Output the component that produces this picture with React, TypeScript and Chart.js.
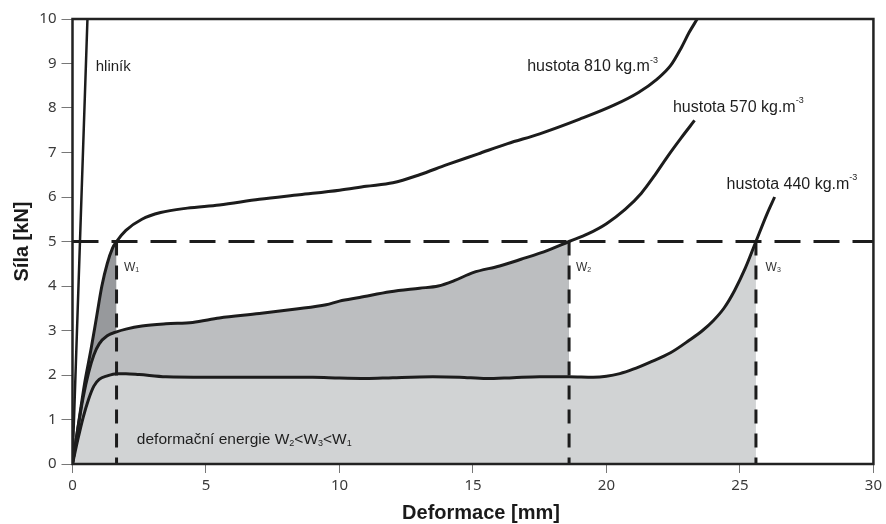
import React, { useEffect, useRef } from "react";
import { Chart, registerables } from "chart.js";
Chart.register(...registerables);

// ---- data (x: Deformace [mm], y: Síla [kN]) ----
const hlinikX = [0, 0.56];
const hlinikY = [0, 10];

const c810X = [0, 0.2, 0.45, 0.7, 0.9, 1.1, 1.3, 1.5, 1.65, 2.0, 2.6, 3.3, 4.3, 5.5, 7.0, 8.5, 10.0, 11.0, 12.0, 13.0, 14.0, 15.2, 16.3, 17.5, 19.0, 20.3, 21.2, 21.9, 22.4, 22.8, 23.1, 23.4];
const c810Y = [0, 0.8, 1.8, 2.6, 3.3, 4.0, 4.5, 4.85, 5.0, 5.25, 5.5, 5.65, 5.75, 5.82, 5.95, 6.05, 6.15, 6.24, 6.32, 6.5, 6.72, 6.97, 7.2, 7.42, 7.75, 8.07, 8.35, 8.65, 8.95, 9.35, 9.7, 10.0];

const c570X = [0, 0.2, 0.4, 0.6, 0.8, 1.0, 1.3, 1.65, 2.0, 2.6, 3.5, 4.5, 5.5, 7.0, 8.3, 9.5, 10.0, 10.75, 11.9, 13.0, 13.7, 14.3, 15.0, 16.0, 16.8, 17.8, 18.6, 19.3, 20.0, 20.7, 21.3, 21.8, 22.3, 22.8, 23.3];
const c570Y = [0, 0.8, 1.5, 2.05, 2.45, 2.7, 2.88, 2.97, 3.03, 3.1, 3.15, 3.18, 3.28, 3.38, 3.48, 3.58, 3.66, 3.74, 3.87, 3.95, 4.0, 4.12, 4.3, 4.45, 4.6, 4.8, 5.0, 5.17, 5.4, 5.72, 6.08, 6.48, 6.92, 7.33, 7.72];

const c440X = [0, 0.2, 0.4, 0.6, 0.8, 1.0, 1.3, 1.65, 2.0, 2.5, 3.5, 5.0, 7.0, 9.0, 10.0, 11.0, 12.0, 13.5, 14.5, 15.5, 16.5, 17.5, 18.6, 19.5, 20.0, 20.5, 21.0, 21.6, 22.4, 23.1, 23.6, 24.0, 24.4, 24.8, 25.2, 25.6, 26.0, 26.3];
const c440Y = [0, 0.55, 1.05, 1.45, 1.75, 1.9, 1.98, 2.03, 2.03, 2.01, 1.96, 1.95, 1.95, 1.95, 1.93, 1.92, 1.94, 1.96, 1.95, 1.92, 1.94, 1.96, 1.96, 1.95, 1.97, 2.03, 2.13, 2.28, 2.5, 2.78, 3.0, 3.22, 3.5, 3.9, 4.4, 5.0, 5.6, 6.0];

const limitForce = 5;
const wX = [1.65, 18.6, 25.6]; // W1, W2, W3 deformations at 5 kN

const xMin = 0, xMax = 30, xStep = 5;
const yMin = 0, yMax = 10, yStep = 1;

// label anchors (data units, left / middle)
const labelText = ["hustota 810 kg.m", "hustota 570 kg.m", "hustota 440 kg.m"];
const labelX = [17.03, 22.49, 24.5];
const labelY = [8.92, 8.0, 6.27];
const hlinikLabel = { text: "hliník", x: 0.87, y: 8.92 };
const wLabelX = [1.93, 18.86, 25.96];
const wLabelY = 4.42;
const energyLabel = { x: 2.41, y: 0.54 };

const pts = (xs: number[], ys: number[]) => xs.map((x, i) => ({ x, y: ys[i] }));
const upTo = (xs: number[], ys: number[], lim: number) =>
  pts(xs, ys).filter((p) => p.x <= lim + 1e-9);

const FONT = '"Liberation Sans", Arial, sans-serif';

function drawParts(ctx: CanvasRenderingContext2D, parts: { t: string; s: number; dy?: number }[], x: number, y: number) {
  let cx = x;
  for (const p of parts) {
    ctx.font = `${p.s}px ${FONT}`;
    ctx.fillText(p.t, cx, y + (p.dy || 0));
    cx += ctx.measureText(p.t).width;
  }
}

const overlayPlugin = {
  id: "overlay",
  afterDatasetsDraw(chart: any) {
    const { ctx, chartArea, scales } = chart;
    const xs = scales.x, ys = scales.y;
    ctx.save();
    // frame
    ctx.strokeStyle = "#222";
    ctx.lineWidth = 2.5;
    ctx.strokeRect(chartArea.left, chartArea.top, chartArea.right - chartArea.left, chartArea.bottom - chartArea.top);

    ctx.fillStyle = "#1e1e1e";
    ctx.textBaseline = "middle";
    ctx.textAlign = "left";
    // density labels
    labelText.forEach((t, i) => {
      drawParts(ctx, [{ t, s: 16 }, { t: "-3", s: 9, dy: -7 }], xs.getPixelForValue(labelX[i]), ys.getPixelForValue(labelY[i]));
    });
    drawParts(ctx, [{ t: hlinikLabel.text, s: 15 }], xs.getPixelForValue(hlinikLabel.x), ys.getPixelForValue(hlinikLabel.y));
    // W labels
    ctx.fillStyle = "#333";
    wLabelX.forEach((wx, i) => {
      drawParts(ctx, [{ t: "W", s: 12 }, { t: String(i + 1), s: 7, dy: 3 }], xs.getPixelForValue(wx), ys.getPixelForValue(wLabelY));
    });
    ctx.fillStyle = "#1e1e1e";
    drawParts(
      ctx,
      [
        { t: "deformační energie W", s: 15.5 },
        { t: "2", s: 9, dy: 4 },
        { t: "<W", s: 15.5 },
        { t: "3", s: 9, dy: 4 },
        { t: "<W", s: 15.5 },
        { t: "1", s: 9, dy: 4 },
      ],
      xs.getPixelForValue(energyLabel.x),
      ys.getPixelForValue(energyLabel.y)
    );
    // axis titles
    ctx.fillStyle = "#1a1a1a";
    ctx.font = `bold 20px ${FONT}`;
    ctx.textAlign = "center";
    ctx.fillText("Deformace [mm]", 481, 513);
    ctx.translate(22, (chartArea.top + chartArea.bottom) / 2);
    ctx.rotate(-Math.PI / 2);
    ctx.fillText("Síla [kN]", 0, 0);
    ctx.restore();
  },
};

export default function App() {
  const ref = useRef<HTMLCanvasElement>(null);
  useEffect(() => {
    if (!ref.current) return;
    const curve = (data: any[], order: number, width = 3) => ({
      data,
      borderColor: "#1c1c1c",
      borderWidth: width,
      pointRadius: 0,
      fill: false,
      cubicInterpolationMode: "monotone" as const,
      order,
    });
    const area = (data: any[], color: string, order: number) => ({
      data,
      borderColor: "rgba(0,0,0,0)",
      borderWidth: 0,
      backgroundColor: color,
      pointRadius: 0,
      fill: "origin",
      cubicInterpolationMode: "monotone" as const,
      order,
    });
    const dashed = (data: any[], dash: number[], order: number) => ({
      data,
      borderColor: "#1c1c1c",
      borderWidth: 3,
      borderDash: dash,
      pointRadius: 0,
      fill: false,
      tension: 0,
      order,
    });
    const datasets: any[] = [
      area(upTo(c810X, c810Y, wX[0]), "#97999c", 20),
      area(upTo(c570X, c570Y, wX[1]), "#bcbec0", 19),
      area(upTo(c440X, c440Y, wX[2]), "#d1d3d4", 18),
      dashed([{ x: xMin, y: limitForce }, { x: xMax, y: limitForce }], [26, 13], 10),
      ...wX.map((w) => dashed([{ x: w, y: limitForce }, { x: w, y: 0 }], [14, 10], 9)),
      curve(pts(hlinikX, hlinikY), 3, 2.5),
      curve(pts(c810X, c810Y), 2),
      curve(pts(c570X, c570Y), 2),
      curve(pts(c440X, c440Y), 2),
    ];
    const chart = new Chart(ref.current, {
      type: "line",
      data: { datasets },
      options: {
        animation: false,
        responsive: false,
        layout: { padding: { top: 19, right: 11, left: 0, bottom: 0 } },
        plugins: {
          legend: { display: false },
          tooltip: { enabled: false },
          filler: { drawTime: "beforeDatasetDraw" },
        } as any,
        scales: {
          x: {
            type: "linear",
            min: xMin,
            max: xMax,
            ticks: { stepSize: xStep, color: "#3a3a3a", font: { family: '"Noto Sans", sans-serif', size: 15 }, padding: 4, maxRotation: 0 },
            grid: { drawOnChartArea: false, drawTicks: true, tickLength: 9, color: "#777" },
            border: { display: false },
            afterFit: (s: any) => { s.height = 60; },
          },
          y: {
            type: "linear",
            min: yMin,
            max: yMax,
            ticks: { stepSize: yStep, color: "#3a3a3a", font: { family: '"Noto Sans", sans-serif', size: 15 }, padding: 5 },
            grid: { drawOnChartArea: false, drawTicks: true, tickLength: 11, color: "#777" },
            border: { display: false },
            afterFit: (s: any) => { s.width = 72.5; },
          },
        },
      },
      plugins: [overlayPlugin],
    });
    return () => chart.destroy();
  }, []);
  return (
    <div style={{ position: "absolute", left: 0, top: 0, width: 886, height: 524, background: "#fff" }}>
      <canvas ref={ref} width={886} height={524} />
    </div>
  );
}
